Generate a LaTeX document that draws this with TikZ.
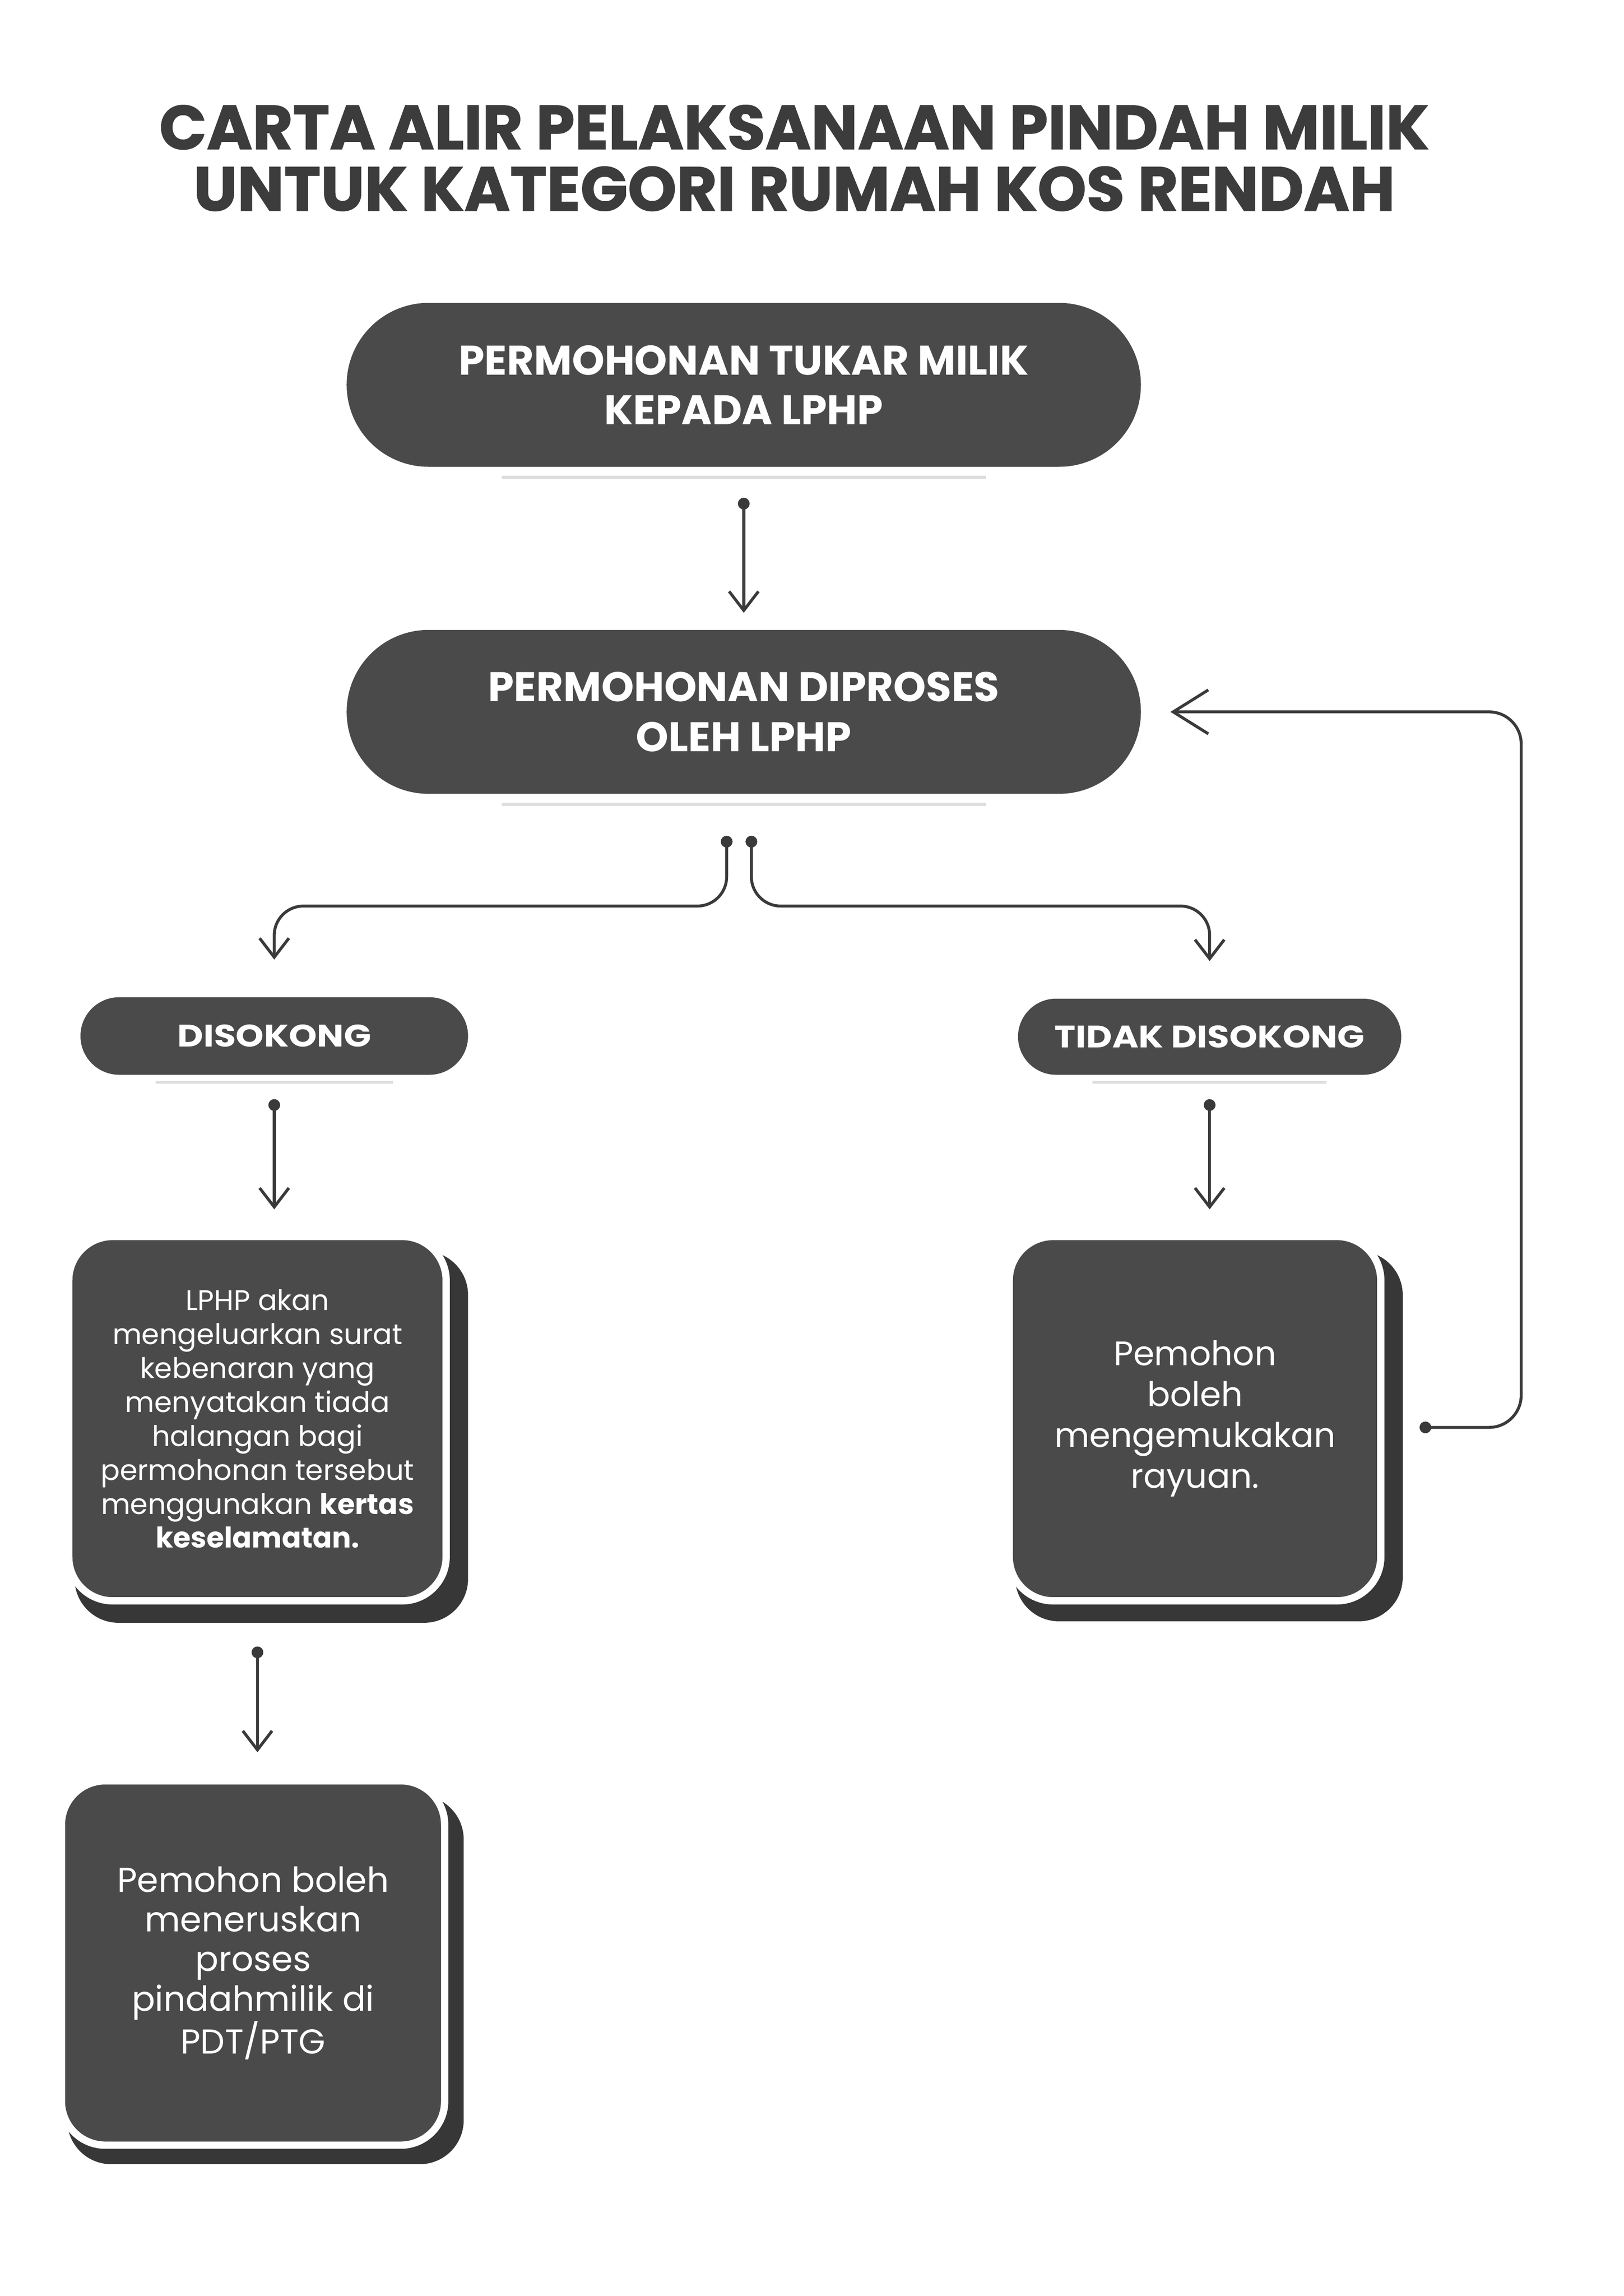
\documentclass[tikz,border=0pt]{standalone}
\usepackage{fontspec}
\usepackage{graphicx}
\setmainfont{Poppins}
\usetikzlibrary{arrows.meta,shapes.misc,calc}
\newlength{\unitpx}
\setlength{\unitpx}{0.3724mm}
\definecolor{boxfill}{RGB}{74,74,74}
\definecolor{shadowfill}{RGB}{55,55,55}
\definecolor{titlecol}{RGB}{60,60,60}
\definecolor{linecol}{RGB}{58,58,58}
\definecolor{faint}{RGB}{222,222,222}
\begin{document}
\begin{tikzpicture}[x=0.3724mm,y=-0.3724mm,
  pill/.style={rounded rectangle, fill=boxfill, text=white, align=center, inner sep=0pt},
  card/.style={rectangle, rounded corners=30\unitpx, fill=boxfill, draw=white, line width=5\unitpx, text=white, align=center, inner sep=0pt},
  cardshadow/.style={fill=shadowfill, rounded corners=30\unitpx},
  conn/.style={draw=linecol, line width=2\unitpx},
  flow/.style={conn, {Circle[length=2.98mm]}-{Straight Barb[length=4.84mm,width=7.45mm]}},
  bigflow/.style={conn, {Circle[length=2.98mm]}-{Straight Barb[length=8.94mm,width=11.17mm]}},
  faintline/.style={draw=faint, line width=2\unitpx}
]
\fill[white] (0,0) rectangle (1110,1569.1);
\useasboundingbox (0,0) rectangle (1110,1569.1);

% title
\node[font=\fontsize{45}{44.5}\selectfont\bfseries\addfontfeature{FakeBold=1.2}, text=titlecol, align=center] (title) at (543,108)
  {CARTA ALIR PELAKSANAAN PINDAH MILIK\\UNTUK KATEGORI RUMAH KOS RENDAH};

% top pills
\node[pill, minimum width=543\unitpx, minimum height=112\unitpx, font=\fontsize{30}{36}\selectfont\bfseries] (n1) at (508.5,263)
  {PERMOHONAN TUKAR MILIK\\KEPADA LPHP};
\node[pill, minimum width=543\unitpx, minimum height=112\unitpx, font=\fontsize{30}{36}\selectfont\bfseries] (n2) at (508.5,486.5)
  {PERMOHONAN DIPROSES\\OLEH LPHP};
\draw[faintline] ([xshift=50\unitpx,yshift=-7\unitpx]n1.south west) -- ([xshift=-50\unitpx,yshift=-7\unitpx]n1.south east);
\draw[faintline] ([xshift=50\unitpx,yshift=-7\unitpx]n2.south west) -- ([xshift=-50\unitpx,yshift=-7\unitpx]n2.south east);

% decision pills
\node[pill, minimum width=265\unitpx, minimum height=53\unitpx, font=\fontsize{22.5}{24}\selectfont\bfseries] (dis) at (187.5,708) {\scalebox{1.15}[1]{DISOKONG}};
\node[pill, minimum width=262\unitpx, minimum height=52\unitpx, font=\fontsize{22.5}{24}\selectfont\bfseries] (tdis) at (827,708.5) {\scalebox{1.15}[1]{TIDAK DISOKONG}};
\draw[faintline] ([xshift=25\unitpx,yshift=-5\unitpx]dis.south west) -- ([xshift=-25\unitpx,yshift=-5\unitpx]dis.south east);
\draw[faintline] ([xshift=25\unitpx,yshift=-5\unitpx]tdis.south west) -- ([xshift=-25\unitpx,yshift=-5\unitpx]tdis.south east);

% card shadows
\fill[cardshadow] (51,855) rectangle (320,1109);
\fill[cardshadow] (694,855) rectangle (959,1108);
\fill[cardshadow] (46,1227) rectangle (317,1479);

% cards
\node[card, minimum width=258\unitpx, minimum height=249\unitpx, font=\fontsize{20.6}{24.6}\selectfont] (lc) at (176,969.5)
  {LPHP akan\\mengeluarkan surat\\kebenaran yang\\menyatakan tiada\\halangan bagi\\permohonan tersebut\\menggunakan \textbf{kertas}\\\textbf{keselamatan.}};
\node[card, minimum width=254\unitpx, minimum height=249\unitpx, font=\fontsize{24.6}{29.6}\selectfont] (rc) at (817,969.5)
  {Pemohon\\boleh\\mengemukakan\\rayuan.};
\node[card, minimum width=262\unitpx, minimum height=249\unitpx, font=\fontsize{25}{28.7}\selectfont] (bc) at (173,1341.5)
  {Pemohon boleh\\meneruskan\\proses\\pindahmilik di\\PDT/PTG};

% connectors
\draw[flow, shorten <=7.82mm, shorten >=4.28mm] (n1.south) -- (n2.north);
\draw[flow, rounded corners=7.45mm, shorten <=10.61mm, shorten >=9.5mm]
  ([xshift=-4.36mm]n2.south) -- ++(0,76.5) -| (dis.north);
\draw[flow, rounded corners=7.45mm, shorten <=10.61mm, shorten >=9.5mm]
  ([xshift=1.94mm]n2.south) -- ++(0,76.5) -| (tdis.north);
\draw[flow, shorten <=6.14mm, shorten >=5.96mm] (dis.south) -- (dis.south |- lc.north);
\draw[flow, shorten <=6.14mm, shorten >=5.96mm] (tdis.south) -- (tdis.south |- rc.north);
\draw[flow, shorten <=10.69mm, shorten >=6.33mm] (lc.south) -- (lc.south |- bc.north);
\coordinate (fbc) at (1040,486.5);
\draw[bigflow, rounded corners=8.19mm, shorten <=8.94mm, shorten >=7.45mm]
  ([yshift=-2.23mm]rc.east) -| (fbc) -- (n2.east);
\end{tikzpicture}
\end{document}
